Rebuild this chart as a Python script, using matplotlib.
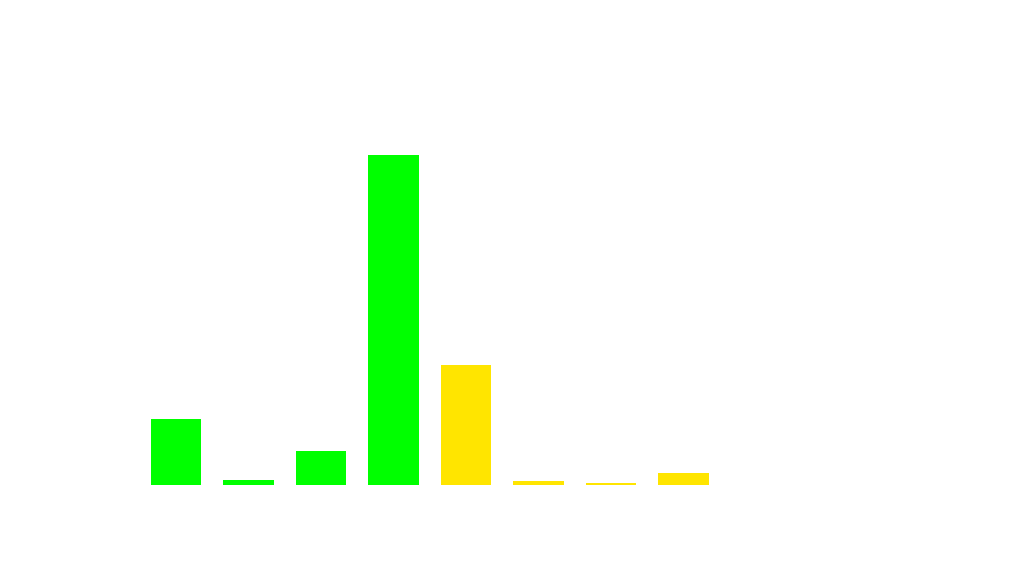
import matplotlib
matplotlib.use("Agg")
import matplotlib.pyplot as plt

# bar values (relative heights)
categories = ["A", "B", "C", "D", "E", "F", "G", "H"]
values = [66, 5, 34, 330, 120, 4.3, 2, 11.7]
bar_colors = ["#00ff00", "#00ff00", "#00ff00", "#00ff00",
              "#ffe500", "#ffe500", "#ffe500", "#ffe500"]

W, H = 1024, 574
fig = plt.figure(figsize=(W / 100, H / 100), dpi=100)
fig.patch.set_facecolor("white")

# axes placed so the baseline sits at y=485px and the tallest bar top at 155px
ax = fig.add_axes([0, (H - 485) / H, 1, 330 / H])
x = list(range(len(categories)))
ax.bar(x, values, width=0.69, color=bar_colors, linewidth=0)

step = 72.5
ax.set_xlim(-176 / step, (W - 176) / step)
ax.set_ylim(0, 330)
ax.axis("off")

fig.savefig("out.png", dpi=100, facecolor="white")
